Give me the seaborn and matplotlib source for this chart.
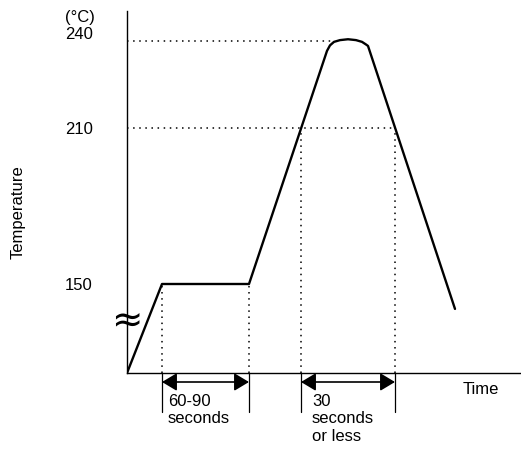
import numpy as np
import pandas as pd
import matplotlib
matplotlib.use('Agg')
import matplotlib.pyplot as plt
import seaborn as sns

# reflow profile (schematic), time in s, temperature in deg C
time_s = [0, 35, 122, 200, 203, 207, 213, 221, 229, 235, 239, 241, 328]
temp_c = [25, 150, 150, 236.5, 238.4, 239.6, 240.2, 240.5, 240.2, 239.6, 238.7, 238.2, 115]

level_ticks = [150, 210, 240]
level_labels = ['150', '210', '240']

# horizontal guide levels and where they stop
guide_levels = [240, 210]
guide_level_end = [205, 268]

# vertical guides: time and the temperature the profile has there
guide_times = [35, 122, 174, 268]
guide_temps = [150, 150, 210, 210]

spans = [(35, 122), (174, 268)]
span_labels = ['60-90\nseconds', '30\nseconds\nor less']
span_label_x = [41, 185]

# the chart axis is broken / not to scale: piecewise mapping
scale_t = [25, 150, 210, 240]
scale_p = [0, 89, 245, 332.3]


def _anchors():
    t = list(scale_t)
    p = list(scale_p)
    s0 = (p[1] - p[0]) / (t[1] - t[0])
    s1 = (p[-1] - p[-2]) / (t[-1] - t[-2])
    t = [t[0] - 1000] + t + [t[-1] + 1000]
    p = [p[0] - 1000 * s0] + p + [p[-1] + 1000 * s1]
    return np.array(t), np.array(p)


T_A, P_A = _anchors()


def fwd(t):
    return np.interp(t, T_A, P_A)


def inv(p):
    return np.interp(p, P_A, T_A)


sns.set_style("white")
plt.rcParams['font.family'] = ['Liberation Sans', 'DejaVu Sans']
plt.rcParams['text.color'] = 'black'
fs = 12

fig = plt.figure(figsize=(5.21, 4.52), dpi=100)
ax = fig.add_axes([127 / 521, 78 / 452, 394 / 521, 362 / 452])
ax.set_yscale('function', functions=(fwd, inv))

df = pd.DataFrame({'Time': time_s, 'Temperature': temp_c})
sns.lineplot(data=df, x='Time', y='Temperature', sort=False, estimator=None,
             color='black', linewidth=1.7, ax=ax, zorder=4)

ax.set_xlim(0, 394)
ax.set_ylim(25, float(inv(362)))
ax.set_xticks([])
ax.set_yticks([])
ax.set_xlabel('')
ax.set_ylabel('')
sns.despine(ax=ax)
for side in ['left', 'bottom']:
    ax.spines[side].set_color('black')
    ax.spines[side].set_linewidth(1.0)

dot = (0, (1, 3))
for lev, xe in zip(guide_levels, guide_level_end):
    ax.plot([0, xe], [lev, lev], color='black', lw=1.1, ls=dot, zorder=2)
for gt, gT in zip(guide_times, guide_temps):
    ax.plot([gt, gt], [25, gT], color='black', lw=1.1, ls=dot, zorder=2)

# solid ticks below the axis and the double arrows
xtr = ax.get_xaxis_transform()
for gt in guide_times:
    ax.plot([gt, gt], [0, -39 / 362], color='black', lw=0.9, transform=xtr,
            clip_on=False)
for (a, b), lab, lx in zip(spans, span_labels, span_label_x):
    ax.annotate('', xy=(b, -9 / 362), xytext=(a, -9 / 362), xycoords=xtr,
                textcoords=xtr, annotation_clip=False,
                arrowprops=dict(arrowstyle='<|-|>,head_length=0.75,head_width=0.45',
                                color='black', lw=1.2, shrinkA=0, shrinkB=0,
                                mutation_scale=12))
    ax.text(lx, -20 / 362, lab, transform=xtr, ha='left', va='top',
            fontsize=fs, linespacing=1.2, clip_on=False)

# level labels to the left of the axis
ytr = ax.get_yaxis_transform()
for lev, lab in zip(level_ticks, level_labels):
    dy = 5.5 if lev == 240 else 0
    ax.annotate(lab, xy=(0, lev), xycoords=ytr, xytext=(-24.5, dy),
                textcoords='offset points', ha='right', va='center', fontsize=fs)
ax.annotate('(°C)', xy=(0, 240), xycoords=ytr, xytext=(-23, 17.4),
            textcoords='offset points', ha='right', va='center', fontsize=fs)

# axis break mark
ax.text(0, float(inv(52)), '≈', ha='center', va='center', fontsize=27,
        family='DejaVu Sans', clip_on=False, zorder=5)

fig.text(18 / 521, 1 - 212 / 452, 'Temperature', rotation=90, ha='center',
         va='center', fontsize=fs)
fig.text(463 / 521, 1 - 390 / 452, 'Time', ha='left', va='center', fontsize=fs)

fig.savefig('out.png', dpi=100)
